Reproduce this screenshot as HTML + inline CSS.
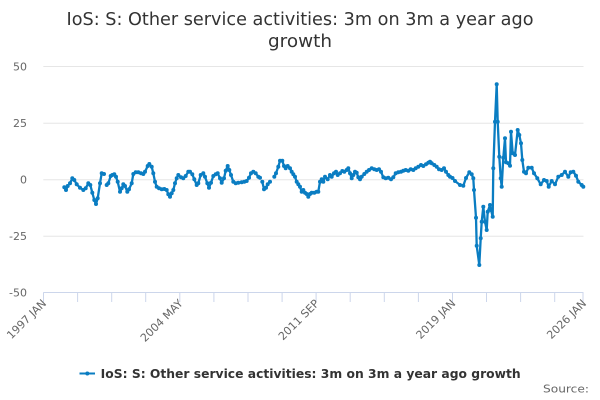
<!DOCTYPE html>
<html>
<head>
<meta charset="utf-8">
<style>
  html, body { margin: 0; padding: 0; background: #ffffff; }
  svg { display: block; }
  text { font-family: "DejaVu Sans", "Liberation Sans", sans-serif; }
</style>
</head>
<body>
<svg width="600" height="400" viewBox="0 0 600 400" xmlns="http://www.w3.org/2000/svg">
  <defs>
    <marker id="dot" viewBox="0 0 5 5" refX="2.5" refY="2.5" markerWidth="5" markerHeight="5" markerUnits="userSpaceOnUse">
      <circle cx="2.5" cy="2.5" r="2" fill="#0a7dc2"/>
    </marker>
  </defs>

  <!-- Title -->
  <text x="300" y="25" text-anchor="middle" font-size="18" fill="#333333" textLength="467" lengthAdjust="spacingAndGlyphs">IoS: S: Other service activities: 3m on 3m a year ago</text>
  <text x="300" y="47" text-anchor="middle" font-size="18" fill="#333333" textLength="64" lengthAdjust="spacingAndGlyphs">growth</text>

  <!-- Gridlines -->
  <g stroke="#e6e6e6" stroke-width="1">
    <line x1="43.3" y1="66.5" x2="583.5" y2="66.5"/>
    <line x1="43.3" y1="123.2" x2="583.5" y2="123.2"/>
    <line x1="43.3" y1="179.8" x2="583.5" y2="179.8"/>
    <line x1="43.3" y1="236.3" x2="583.5" y2="236.3"/>
  </g>
  <!-- X axis line -->
  <line x1="43.3" y1="292.5" x2="583.5" y2="292.5" stroke="#ccd6eb" stroke-width="1"/>
  <!-- Ticks -->
  <g stroke="#ccd6eb" stroke-width="1">
    <line x1="43.5" y1="292.5" x2="43.5" y2="302"/>
    <line x1="77.6" y1="292.5" x2="77.6" y2="302"/>
    <line x1="111.7" y1="292.5" x2="111.7" y2="302"/>
    <line x1="145.7" y1="292.5" x2="145.7" y2="302"/>
    <line x1="179.8" y1="292.5" x2="179.8" y2="302"/>
    <line x1="213.9" y1="292.5" x2="213.9" y2="302"/>
    <line x1="248" y1="292.5" x2="248" y2="302"/>
    <line x1="282.1" y1="292.5" x2="282.1" y2="302"/>
    <line x1="316.1" y1="292.5" x2="316.1" y2="302"/>
    <line x1="350.2" y1="292.5" x2="350.2" y2="302"/>
    <line x1="384.3" y1="292.5" x2="384.3" y2="302"/>
    <line x1="418.4" y1="292.5" x2="418.4" y2="302"/>
    <line x1="452.5" y1="292.5" x2="452.5" y2="302"/>
    <line x1="486.5" y1="292.5" x2="486.5" y2="302"/>
    <line x1="520.6" y1="292.5" x2="520.6" y2="302"/>
    <line x1="554.7" y1="292.5" x2="554.7" y2="302"/>
    <line x1="583" y1="292.5" x2="583" y2="302"/>
  </g>

  <!-- Y labels -->
  <g font-size="11" fill="#666666" text-anchor="end">
    <text x="27" y="70.5">50</text>
    <text x="27" y="127">25</text>
    <text x="27" y="183.5">0</text>
    <text x="27" y="240">-25</text>
    <text x="27" y="296.5">-50</text>
  </g>

  <!-- X labels -->
  <g font-size="11" fill="#666666" text-anchor="end">
    <text transform="translate(47,304) rotate(-45)">1997 JAN</text>
    <text transform="translate(183.5,304) rotate(-45)">2004 MAY</text>
    <text transform="translate(319.8,304) rotate(-45)">2011 SEP</text>
    <text transform="translate(456.2,304) rotate(-45)">2019 JAN</text>
    <text transform="translate(587,304) rotate(-45)">2026 JAN</text>
  </g>

  <!-- Series -->
  <g fill="none" stroke="#0a7dc2" stroke-width="2.3" stroke-linejoin="round" stroke-linecap="round" marker-start="url(#dot)" marker-mid="url(#dot)" marker-end="url(#dot)">
    <polyline points="64.3,187.3 66,190 67.7,186"/>
    <polyline points="70,183.3 72.3,178.3 74.3,180 76.7,184.3 80,187.7 83.3,190 85.7,188.3 88.3,183.3 90.3,185 92.3,192.7 94.3,200 96,204 97.7,198.3 100,183.3 101.7,173.3 104,174"/>
    <polyline points="106.7,185 108.3,183.3 110.7,176 112.3,175 114.3,174.3 116,176.7 117.7,181.7 120,191.7 121.7,188.3 123.3,184.3 125,186 127.3,191.7 129,189.3 131.7,183.3 133.3,174 135.7,172.3 138.3,172.3 141,173.3 143.3,174 145,171.7 147.7,166 149.3,164 151.7,166.7 153.3,173.3 155,181.7 156.7,186.7 159,188.3 161.7,189.3 164.3,189 166.7,190 168.3,194.3 170,196.7 171.7,193.3 173.3,190 175,183.3 176.7,178.3 178.3,175 181,177.3 183.3,178.3 185.7,176 188.3,171.7 190,171.7 192.3,174.3 194.3,179.3 196.7,185 198.3,183.3 200.7,175 203.3,173.3 205,176.7 207.3,183.3 209,187.7 211,182.7 213.3,176 215.7,174.3 217.7,173.3 220,178.3 221.7,182.7 224,178.3 225.7,170.7 227.7,166 229.3,170 231,175 233.3,181.7 235.7,183.3 238.3,182.7 241.7,182.3 244.3,181.7 246.7,181 249,177.7 251,173.3 253.3,171.7 255.7,173.3 258.3,176.7 260,177.7"/>
    <polyline points="262.3,181.7 264,189.3 266,187.7 267.7,184.3 270,181.7"/>
    <polyline points="274.3,176.7 276,173.3 278.3,166.7 280,160.7 282.3,160.7 284,166 285.7,168.3 287.7,166 290,168.3 291.7,171.7 293.3,174.3 295,176.7 296.7,181.7 298.3,184.3 300,186.7 301.7,191.7 303.3,190 305,192.7 306.7,194 308.3,196.7 310,194 311.7,192.7 314.3,192.7 316.7,191.7 318.3,191.7 320,181.7 321.7,179.3 323.3,181.7 325,176.7 327.7,179.3 330,175 331.7,176.7 334,173.3 336,171.7 337.7,175 340,173.3 342.3,171 344.3,171.7 346.7,170 348.3,168.3 350,173.3 351.7,178.3 353.3,175 355,171.7 356.7,172.7 358.3,177.3 360,179.3 361.7,176.7 364.3,174 366.7,171.7 369,170 371.7,168.3 374.3,169.3 376.7,170 379,169.3 381,171.7 383.3,177.3 385.7,178.3 388.3,177.7 391,179.3 393.3,177.3 395.7,173.3 398.3,172.3 401,171.7 403.3,170.7 405.7,170 408.3,170.7 410.7,169.3 413.3,170 415.7,168.3 418.3,166.7 421,165 423.3,166 426,164.3 428.3,162.7 430,161.7 431.7,163.3 434.3,165 436.7,166.7 439,169.3 441.7,170 444,168.3 446,171.7 448.3,175 450,176.7 452.5,178 455,181 460,185 463.3,185.7 466,178 469.3,172.3 471.7,174.3 473.3,178.3 474,190 476,217.7 476.7,245.7 479.3,265 480.7,238.3 481.7,221.7 483.3,206.7 485,221.7 486.7,230 487.7,211.7 490,205 491,210 492.7,216.7 493.3,168.3 495,121.7 496.7,84.3 497.7,121.7 499.3,156.7 500.7,178.3 501.7,186.7 503.3,157.7 505,138.3 506,162.3 508.3,163.3 510,165.7 511,131.7 512.7,153.3 515,155 517.7,130 519.3,135 521,143.3 522.3,160 524,171.7 526,173.3 528.3,167.7 531.7,167.7 534,173.3 537.3,178.3 540.7,184.3 544,180 546.7,181 548.7,186.7 551.7,181 555,184.3 558.3,176.7 561.7,175 565,171.7 568.3,176.7 570.7,172.3 573.3,171.7 576,175.7 578.3,181.7 581.7,185 583.3,186.7"/>
  </g>

  <!-- Legend -->
  <line x1="79.5" y1="373.5" x2="95" y2="373.5" stroke="#0a7dc2" stroke-width="2"/>
  <circle cx="87.3" cy="373.5" r="2" fill="#0a7dc2"/>
  <text x="100.7" y="378" font-size="12" font-weight="bold" fill="#333333" textLength="420" lengthAdjust="spacingAndGlyphs">IoS: S: Other service activities: 3m on 3m a year ago growth</text>

  <!-- Source -->
  <text x="589" y="392.5" text-anchor="end" font-size="11" fill="#666666" textLength="46" lengthAdjust="spacingAndGlyphs">Source:</text>
</svg>
</body>
</html>
